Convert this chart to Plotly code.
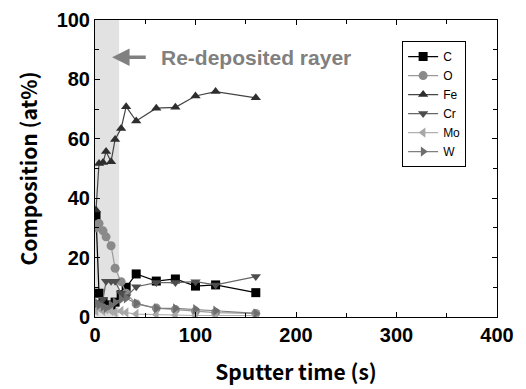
import plotly.graph_objects as go

times = [1, 4, 8, 11, 16, 20, 26, 31, 41, 61, 80, 100, 120, 160]
C  = [34, 8, 5, 4, 4, 5, 7.5, 10, 14.5, 12.1, 12.8, 10.4, 10.8, 8.2]
O  = [30, 31.5, 29, 27, 24, 16.4, 11.9, 8, 4.4, 3, 2.5, 2, 1.5, 1.2]
Fe = [36, 51.7, 52, 55.7, 52.3, 59.8, 63.5, 70.8, 66, 70.3, 70.6, 74.4, 75.9, 73.8]
Cr = [3, 5, 6, 12, 12, 12, 8, 6.8, 10.2, 11.6, 11.6, 11.9, 10.8, 13.6]
Mo = [2, 3, 2, 2.5, 2, 1.5, 2, 1.5, 1, 0.8, 0.6, 0.5, 0.5, 0.5]
W  = [5, 4, 3.5, 3, 4, 5, 6, 6.3, 4.6, 2.9, 2.9, 2.6, 2.1, 1.2]

series = [
    ("C", C, "square", "#000000", "#000000"),
    ("O", O, "circle", "#8a8a8a", "#9a9a9a"),
    ("Fe", Fe, "triangle-up", "#2e2e2e", "#444444"),
    ("Cr", Cr, "triangle-down", "#4d4d4d", "#666666"),
    ("Mo", Mo, "triangle-left", "#a8a8a8", "#b0b0b0"),
    ("W", W, "triangle-right", "#6e6e6e", "#808080"),
]

fig = go.Figure()
for name, vals, sym, mcol, lcol in series:
    fig.add_trace(go.Scatter(
        x=times, y=vals, name=name, mode="lines+markers",
        line=dict(color=lcol, width=1.2),
        marker=dict(symbol=sym, size=9, color=mcol),
    ))

fig.add_shape(type="rect", xref="x", yref="y", x0=0, x1=24, y0=0, y1=100,
              fillcolor="#e2e2e2", line=dict(width=0), layer="below")

fig.add_annotation(x=17, y=87.5, ax=52, ay=87.5, xref="x", yref="y",
                   axref="x", ayref="y", showarrow=True, arrowhead=2,
                   arrowsize=1, arrowwidth=3.5, arrowcolor="#808080", text="")
fig.add_annotation(x=64, y=87.5, xref="x", yref="y", xanchor="left",
                   showarrow=False, text="<b>Re-deposited rayer</b>",
                   font=dict(family="Liberation Sans", size=21, color="#808080"))

axis_common = dict(
    showgrid=False, zeroline=False, showline=True, linecolor="black",
    linewidth=1, mirror="ticks", ticks="inside", ticklen=5, tickcolor="black",
    automargin=False,
    tickfont=dict(family="Liberation Sans", size=20, color="black", weight="bold"),
)

fig.update_xaxes(range=[0, 400], dtick=100, tick0=0,
                 minor=dict(dtick=50, ticks="inside", ticklen=4, tickcolor="black"),
                 title=dict(text="Sputter time (s)", standoff=20,
                            font=dict(family="Noto Sans CJK JP", size=21, color="black", weight="bold")),
                 **axis_common)
fig.update_yaxes(range=[0, 100], dtick=20, tick0=0,
                 minor=dict(dtick=10, ticks="inside", ticklen=4, tickcolor="black"),
                 title=dict(text="Composition (at%)", standoff=13,
                            font=dict(family="Noto Sans CJK JP", size=21, color="black", weight="bold")),
                 **axis_common)

fig.update_layout(
    width=518, height=381,
    margin=dict(l=87, r=29, t=12, b=72),
    plot_bgcolor="white", paper_bgcolor="white",
    legend=dict(x=0.764, y=0.929, xanchor="left", yanchor="top",
                bordercolor="black", borderwidth=1, bgcolor="white",
                font=dict(family="Liberation Sans", size=12, color="black"),
                itemwidth=30, tracegroupgap=0),
    showlegend=True,
)

fig.write_html("out.html")
